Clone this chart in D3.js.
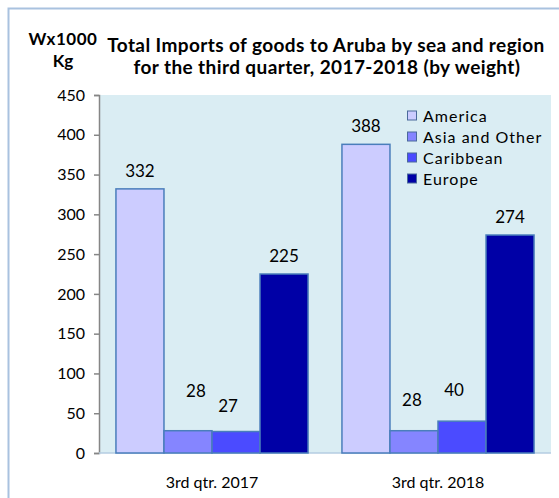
<!DOCTYPE html>
<html>
<head>
<meta charset="utf-8">
<script src="https://cdn.jsdelivr.net/npm/d3@7"></script>
<style>
  body { margin: 0; background: #fff; }
  svg text { font-family: Lato, "Noto Sans", sans-serif; fill: #000; }
</style>
</head>
<body>
<div class="graph"></div>
<script>
// data
var categories = ["3rd qtr. 2017", "3rd qtr. 2018"];
var regions = ["America", "Asia and Other", "Caribbean", "Europe"];
var america = [332, 388];
var asiaOther = [28, 28];
var caribbean = [27, 40];
var europe = [225, 274];
var yTicks = [0, 50, 100, 150, 200, 250, 300, 350, 400, 450];

var colors = ["#ccccff", "#8585ff", "#4b4bff", "#0000a6"];

window.onload = () => {
  var width = 559, height = 498;
  var left = 99, right = 551, top = 95, bottom = 453;

  var svg = d3.select(".graph").append("svg")
    .attr("width", width)
    .attr("height", height);

  // outer frame
  svg.append("rect")
    .attr("x", 8.5).attr("y", 8.5)
    .attr("width", 600).attr("height", 600)
    .attr("fill", "none")
    .attr("stroke", "#a9c2df")
    .attr("stroke-width", 2);

  var series = [america, asiaOther, caribbean, europe];
  var rows = categories.map(function (c, i) {
    return { cat: c, values: series.map(function (s, j) { return { region: regions[j], value: s[i], k: j }; }) };
  });

  var x0 = d3.scaleBand().domain(categories).range([left, right])
    .paddingInner(0.15).paddingOuter(0.075);
  var x1 = d3.scaleBand().domain(regions).range([0, x0.bandwidth()]);
  var y = d3.scaleLinear().domain([0, 450]).range([bottom, top]);

  // plot background
  svg.append("rect")
    .attr("x", left).attr("y", top)
    .attr("width", right - left).attr("height", bottom - top)
    .attr("fill", "#daedf3");

  // y axis
  var yAxis = svg.append("g")
    .attr("transform", "translate(" + left + ",0)")
    .call(d3.axisLeft(y).tickValues(yTicks).tickSize(5).tickPadding(9));
  yAxis.select(".domain").attr("stroke", "#868686").attr("stroke-width", 1.5);
  yAxis.selectAll(".tick line").attr("stroke", "#868686").attr("stroke-width", 1.5);
  yAxis.selectAll("text").style("font-size", "16px").attr("fill", "#000");

  // x axis line
  svg.append("line")
    .attr("x1", left).attr("x2", right)
    .attr("y1", bottom).attr("y2", bottom)
    .attr("stroke", "#b4cde2").attr("stroke-width", 1.5);

  var groups = svg.append("g").selectAll("g")
    .data(rows)
    .enter().append("g")
    .attr("transform", function (d) { return "translate(" + x0(d.cat) + ",0)"; });

  groups.selectAll("rect")
    .data(function (d) { return d.values; })
    .enter().append("rect")
    .attr("x", function (d) { return x1(d.region); })
    .attr("y", function (d) { return y(d.value); })
    .attr("width", x1.bandwidth())
    .attr("height", function (d) { return bottom - y(d.value); })
    .attr("fill", function (d) { return colors[d.k]; })
    .attr("stroke", "#4a7ebb")
    .attr("stroke-width", 1.5);

  // small bars had their labels moved by hand in the original
  var nudge = { "3rd qtr. 2017": [0, 22, 8, 0], "3rd qtr. 2018": [0, 13, 13, 0] };
  var nudgeX = { "3rd qtr. 2017": [0, 8, -8, 0], "3rd qtr. 2018": [0, -2, -8, 0] };

  groups.each(function (g) {
    d3.select(this).selectAll("text.val")
      .data(g.values)
      .enter().append("text")
      .attr("class", "val")
      .attr("x", function (d) { return x1(d.region) + x1.bandwidth() / 2 + nudgeX[g.cat][d.k]; })
      .attr("y", function (d) { return y(d.value) - 12 - nudge[g.cat][d.k]; })
      .attr("text-anchor", "middle")
      .style("font-size", "17px")
      .text(function (d) { return d.value; });
  });

  // category labels
  svg.append("g").selectAll("text")
    .data(categories)
    .enter().append("text")
    .attr("x", function (d) { return x0(d) + x0.bandwidth() / 2; })
    .attr("y", 488)
    .attr("text-anchor", "middle")
    .style("font-size", "16px")
    .text(function (d) { return d; });

  // titles
  svg.append("text").attr("x", 63).attr("y", 45).attr("text-anchor", "middle")
    .style("font-size", "17px").style("font-weight", "bold").style("letter-spacing", "0.5px").text("Wx1000");
  svg.append("text").attr("x", 63).attr("y", 67).attr("text-anchor", "middle")
    .style("font-size", "17px").style("font-weight", "bold").text("Kg");
  svg.append("text").attr("x", 326).attr("y", 52).attr("text-anchor", "middle")
    .style("font-size", "19px").style("font-weight", "bold").style("letter-spacing", "0.4px")
    .text("Total Imports of goods to Aruba by sea and region");
  svg.append("text").attr("x", 327).attr("y", 74).attr("text-anchor", "middle")
    .style("font-size", "19px").style("font-weight", "bold").style("letter-spacing", "0.4px")
    .text("for the third quarter, 2017-2018 (by weight)");

  // legend
  var legend = svg.append("g").selectAll("g")
    .data(regions)
    .enter().append("g")
    .attr("transform", function (d, i) { return "translate(407," + (116 + i * 21) + ")"; });
  legend.append("rect")
    .attr("x", 0.5).attr("y", -5)
    .attr("width", 9).attr("height", 9)
    .attr("fill", function (d, i) { return colors[i]; })
    .attr("stroke", "#4a6a9b").attr("stroke-width", 1);
  legend.append("text")
    .attr("x", 16).attr("y", 5.5)
    .style("font-size", "16px")
    .style("letter-spacing", "1px")
    .text(function (d) { return d; });
};
</script>
</body>
</html>
